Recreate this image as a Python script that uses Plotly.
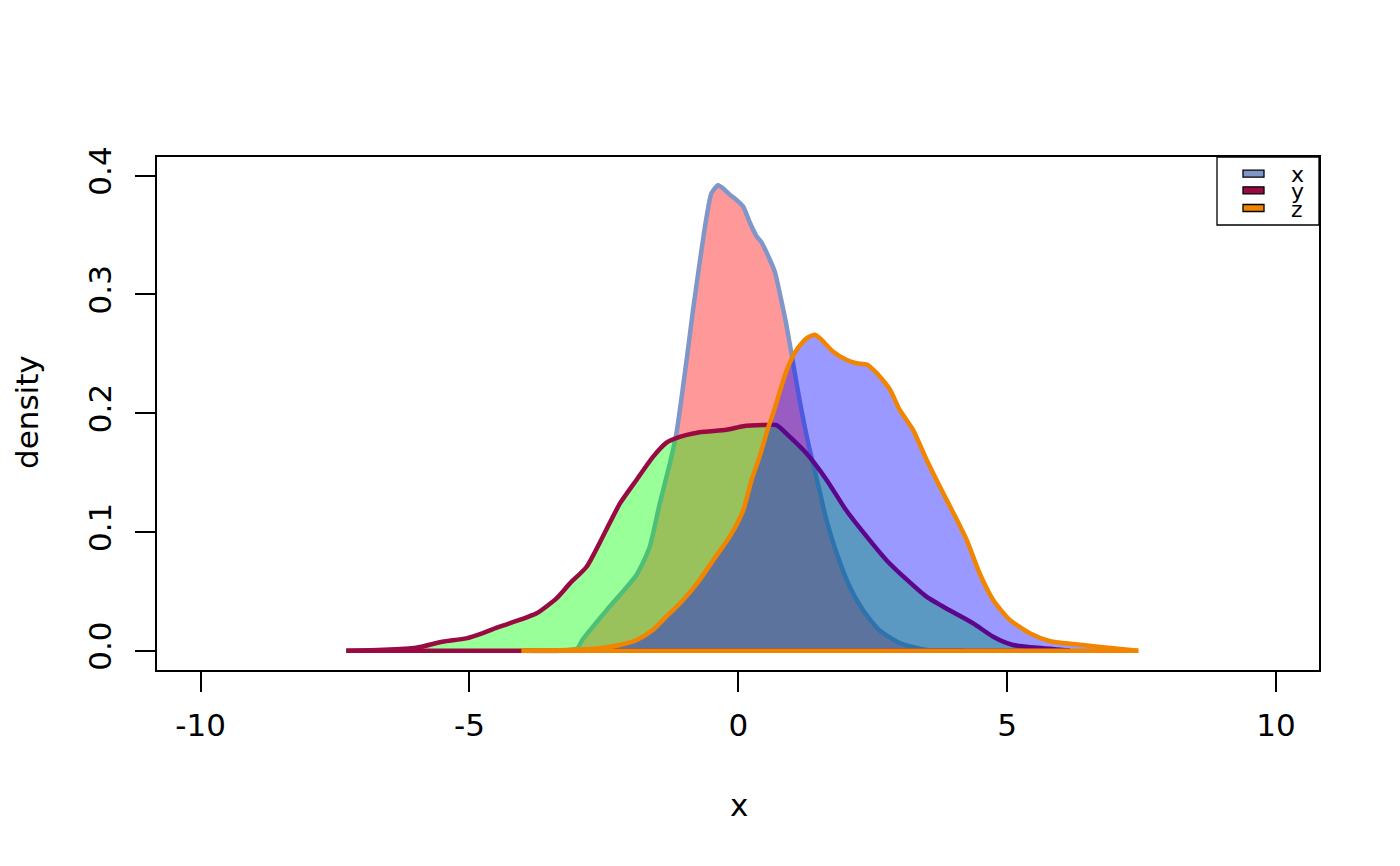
import plotly.graph_objects as go

# density estimates
x_grid = [-4.0, -3.3, -2.99, -2.9, -2.45, -1.89, -1.65, -1.46, -1.27, -1.15, -0.96,
          -0.85, -0.72, -0.59, -0.50, -0.375, -0.25, -0.16, -0.07, 0.09, 0.21, 0.34,
          0.43, 0.55, 0.68, 0.80, 0.90, 1.02, 1.14, 1.30, 1.52, 1.64, 1.83, 2.07,
          2.32, 2.63, 3.0, 3.5, 4.2]
x_dens = [0.0, 0.0, 0.002, 0.009, 0.034, 0.064, 0.087, 0.124, 0.158, 0.183, 0.245,
          0.284, 0.326, 0.365, 0.385, 0.392, 0.388, 0.384, 0.381, 0.374, 0.361, 0.349,
          0.344, 0.333, 0.319, 0.295, 0.273, 0.242, 0.211, 0.175, 0.133, 0.110, 0.082,
          0.054, 0.034, 0.017, 0.0065, 0.0006, 0.0]

y_grid = [-7.29, -6.6, -5.99, -5.50, -5.06, -4.75, -4.44, -4.07, -3.75, -3.38, -3.13,
          -2.82, -2.52, -2.20, -1.89, -1.59, -1.34, -1.09, -0.72, -0.22, 0.09, 0.46,
          0.71, 0.96, 1.27, 1.64, 2.01, 2.39, 2.76, 3.13, 3.50, 3.93, 4.37, 4.74,
          5.11, 5.67, 6.17]
y_dens = [0.0, 0.0008, 0.0025, 0.0076, 0.0104, 0.0149, 0.0202, 0.0259, 0.0315, 0.0441,
          0.0567, 0.0707, 0.096, 0.124, 0.144, 0.163, 0.175, 0.180, 0.184, 0.186, 0.189,
          0.190, 0.190, 0.180, 0.166, 0.144, 0.118, 0.096, 0.076, 0.060, 0.0455, 0.034,
          0.023, 0.0118, 0.0048, 0.002, 0.0]

z_grid = [-4.03, -3.2, -2.58, -2.20, -1.89, -1.59, -1.34, -1.06, -0.72, -0.47, -0.16,
          0.09, 0.25, 0.40, 0.55, 0.65, 0.90, 1.08, 1.27, 1.42, 1.52, 1.76, 2.01, 2.20,
          2.39, 2.57, 2.82, 3.0, 3.25, 3.50, 3.75, 4.0, 4.25, 4.49, 4.74, 5.05, 5.42,
          5.80, 6.41, 6.97, 7.44]
z_dens = [0.0, 0.0005, 0.002, 0.0048, 0.009, 0.0174, 0.0286, 0.041, 0.0595, 0.076, 0.096,
          0.118, 0.144, 0.164, 0.187, 0.200, 0.236, 0.253, 0.263, 0.266, 0.263, 0.252,
          0.245, 0.242, 0.241, 0.234, 0.220, 0.203, 0.186, 0.161, 0.138, 0.116, 0.093,
          0.065, 0.0427, 0.0259, 0.0147, 0.008, 0.0048, 0.002, 0.0]

names = ["x", "y", "z"]
line_colors = ["#8096C8", "#990A42", "#F28500"]
fill_colors = ["rgba(255,0,0,0.4)", "rgba(0,255,0,0.4)", "rgba(0,0,255,0.4)"]
x_ticks = [-10, -5, 0, 5, 10]
x_ticktext = ["-10", "-5", "0", "5", "10"]
y_ticks = [0.0, 0.1, 0.2, 0.3, 0.4]

FONT = "DejaVu Sans"
OFF = 8  # page body margin
W, H = 1384, 850
ML, MR, MT, MB = 157 - OFF, 73, 157 - OFF, 188


# page pixel -> paper coordinates
def px(xp):
    return (xp - OFF - ML) / (W - ML - MR)


def py(yp):
    return (H - MB - (yp - OFF)) / (H - MT - MB)


fig = go.Figure()
for grid, dens, lc, fc in zip([x_grid, y_grid, z_grid], [x_dens, y_dens, z_dens],
                              line_colors, fill_colors):
    fig.add_trace(go.Scatter(
        x=grid, y=dens, mode="lines", fill="toself", fillcolor=fc,
        line=dict(color=lc, width=4.5, shape="spline", smoothing=0.6),
        showlegend=False, hoverinfo="skip",
    ))
    # closing edge of the polygon, stroked as R's polygon() does
    fig.add_trace(go.Scatter(
        x=[grid[-1], grid[0]], y=[dens[-1], dens[0]], mode="lines",
        line=dict(color=lc, width=4.5), showlegend=False, hoverinfo="skip",
    ))

# legend drawn like R's legend() box
shapes = [dict(type="rect", xref="paper", yref="paper",
               x0=px(1217), x1=1, y0=py(225), y1=1,
               line=dict(color="black", width=1.3), fillcolor="white")]
annotations = []
for name, lc, row in zip(names, line_colors, [173.7, 190.3, 208]):
    shapes.append(dict(type="rect", xref="paper", yref="paper",
                       x0=px(1243), x1=px(1264), y0=py(row + 3.5), y1=py(row - 3.5),
                       line=dict(color="black", width=1.3), fillcolor=lc))
    annotations.append(dict(text=name, xref="paper", yref="paper", x=px(1297),
                            y=py(row + 1), xanchor="center", yanchor="middle",
                            showarrow=False, font=dict(family=FONT, size=22, color="black")))

annotations.append(dict(text="x", xref="paper", yref="paper", x=px(738.5), y=py(805),
                        xanchor="center", yanchor="middle", showarrow=False,
                        font=dict(family=FONT, size=31, color="black")))
annotations.append(dict(text="density", xref="paper", yref="paper", x=px(27), y=py(412),
                        xanchor="center", yanchor="middle", textangle=-90, showarrow=False,
                        font=dict(family=FONT, size=31, color="black")))

axis_style = dict(showline=True, mirror=True, linecolor="black", linewidth=1.5,
                  ticks="outside", ticklen=20, tickwidth=1.5, tickcolor="black",
                  showgrid=False, zeroline=False,
                  tickfont=dict(family=FONT, size=31, color="black"))

fig.update_layout(
    width=W, height=H,
    margin=dict(l=ML, r=MR, t=MT, b=MB),
    paper_bgcolor="white", plot_bgcolor="white",
    xaxis=dict(range=[-10.81, 10.8], tickvals=x_ticks, ticktext=x_ticktext,
               ticklabelstandoff=7, **axis_style),
    yaxis=dict(range=[-0.01625, 0.4157], tickvals=y_ticks, tickformat=".1f",
               tickangle=-90, ticklabelstandoff=12, **axis_style),
    shapes=shapes, annotations=annotations,
)

fig.write_html("out.html")
